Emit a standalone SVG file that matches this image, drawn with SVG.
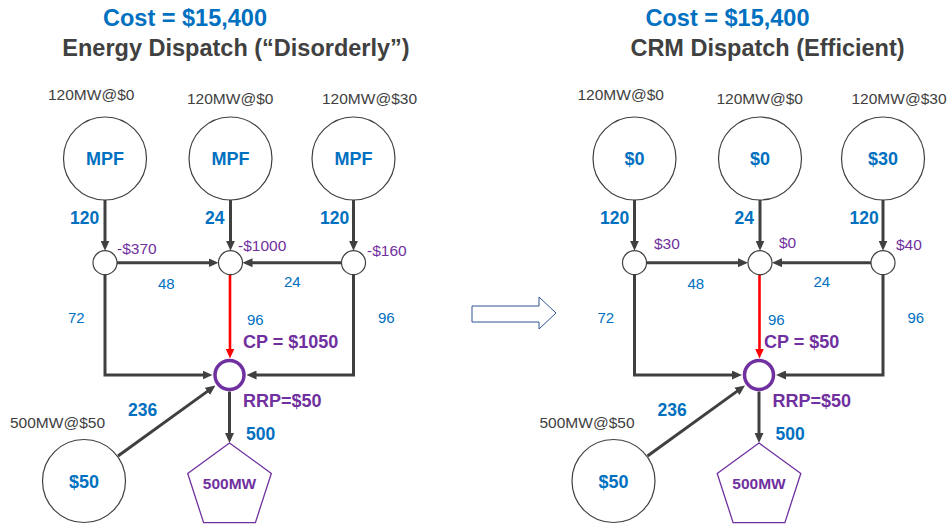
<svg xmlns="http://www.w3.org/2000/svg" width="949" height="524" viewBox="0 0 949 524">
  <style>
    text { font-family: "Liberation Sans", Arial, sans-serif; }
    .cost { font-size: 23.5px; font-weight: bold; fill: #0070C0; text-anchor: middle; }
    .title { font-size: 23.5px; font-weight: bold; fill: #404040; text-anchor: middle; }
    .cap { font-size: 15.5px; fill: #404040; }
    .gen { fill: #fff; stroke: #404040; stroke-width: 1.2; }
    .gname { font-size: 18px; font-weight: bold; fill: #0070C0; text-anchor: middle; }
    .bus { fill: #fff; stroke: #404040; stroke-width: 1.2; }
    .hub { fill: #fff; stroke: #7030A0; stroke-width: 3.5; }
    .load { fill: #fff; stroke: #7030A0; stroke-width: 1.3; }
    .lname { font-size: 15.5px; font-weight: bold; fill: #7030A0; text-anchor: middle; }
    .flowb { font-size: 17.5px; font-weight: bold; fill: #0070C0; }
    .flow { font-size: 15px; fill: #0070C0; }
    .price { font-size: 15.5px; fill: #7030A0; }
    .pb { font-size: 18px; font-weight: bold; fill: #7030A0; }
    .edge { fill: none; stroke: #404040; stroke-width: 3; marker-end: url(#ah); }
    .edge-bind { fill: none; stroke: #FF0000; stroke-width: 2.6; marker-end: url(#ahr); }
  </style>
  <defs>
    <marker id="ah" viewBox="0 0 10 9" refX="3" refY="4.5" markerWidth="10" markerHeight="9" markerUnits="userSpaceOnUse" orient="auto">
      <path d="M0,0 L10,4.5 L0,9 z" fill="#404040"/>
    </marker>
    <marker id="ahr" viewBox="0 0 10 9" refX="3" refY="4.5" markerWidth="10" markerHeight="9" markerUnits="userSpaceOnUse" orient="auto">
      <path d="M0,0 L10,4.5 L0,9 z" fill="#FF0000"/>
    </marker>
  </defs>

  <!-- ===== Left panel: energy dispatch ===== -->
  <g id="left-heading">
    <text class="cost" x="185" y="26">Cost = $15,400</text>
    <text class="title" x="236" y="56">Energy Dispatch (“Disorderly”)</text>
  </g>

  <g id="left-connectors">
    <path class="edge" d="M105,200 V243.7"/>
    <path class="edge" d="M230.5,200 V243.7"/>
    <path class="edge" d="M353.5,200 V243.7"/>
    <path class="edge" d="M117,262.7 H211.5"/>
    <path class="edge" d="M341.5,262.7 H249.5"/>
    <path class="edge-bind" d="M230,274.7 V351.5"/>
    <path class="edge" d="M105,274.7 V375 H205.5"/>
    <path class="edge" d="M353.5,274.7 V375 H253.5"/>
    <path class="edge" d="M118,456 L209.8,389.6"/>
    <path class="edge" d="M229.5,391.5 V436"/>
  </g>

  <g id="L-gen1">
    <text class="cap" x="48" y="100">120MW@$0</text>
    <circle class="gen" cx="105" cy="158.5" r="41.5"/>
    <text class="gname" x="105" y="165">MPF</text>
  </g>
  <g id="L-gen2">
    <text class="cap" x="187" y="104">120MW@$0</text>
    <circle class="gen" cx="230.5" cy="158.5" r="41.5"/>
    <text class="gname" x="230.5" y="165">MPF</text>
  </g>
  <g id="L-gen3">
    <text class="cap" x="322" y="104">120MW@$30</text>
    <circle class="gen" cx="353.5" cy="158.5" r="41.5"/>
    <text class="gname" x="353.5" y="165">MPF</text>
  </g>
  <g id="L-bus1">
    <circle class="bus" cx="105" cy="262.7" r="12"/>
    <text class="price" x="117" y="253.5">-$370</text>
  </g>
  <g id="L-bus2">
    <circle class="bus" cx="230.5" cy="262.7" r="12"/>
    <text class="price" x="238" y="251">-$1000</text>
  </g>
  <g id="L-bus3">
    <circle class="bus" cx="353.5" cy="262.7" r="12"/>
    <text class="price" x="367" y="256">-$160</text>
  </g>
  <g id="L-hub">
    <circle class="hub" cx="229.5" cy="375" r="14.5"/>
    <text class="pb" x="243" y="348">CP = $1050</text>
    <text class="pb" x="243" y="406.5">RRP=$50</text>
  </g>
  <g id="L-gen4">
    <text class="cap" x="10" y="427.5">500MW@$50</text>
    <circle class="gen" cx="84" cy="481" r="41.5"/>
    <text class="gname" x="84" y="488">$50</text>
  </g>
  <g id="L-load">
    <polygon class="load" points="229.5,443 271.3,473.4 255.4,522.6 203.6,522.6 187.7,473.4"/>
    <text class="lname" x="229.5" y="488.5">500MW</text>
  </g>
  <g id="L-flows">
    <text class="flowb" x="70" y="224">120</text>
    <text class="flowb" x="205" y="224">24</text>
    <text class="flowb" x="320" y="224">120</text>
    <text class="flow" x="158" y="289">48</text>
    <text class="flow" x="284" y="287">24</text>
    <text class="flow" x="68" y="323">72</text>
    <text class="flow" x="247" y="325">96</text>
    <text class="flow" x="378" y="323">96</text>
    <text class="flowb" x="128" y="415.5">236</text>
    <text class="flowb" x="246" y="439.5">500</text>
  </g>

  <!-- transition arrow -->
  <g id="transition">
    <polygon points="472,306 539,306 539,297 556,313 539,329 539,322 472,322" fill="#fff" stroke="#2F5597" stroke-width="1"/>
  </g>

  <!-- ===== Right panel: CRM dispatch ===== -->
  <g id="right-heading">
    <text class="cost" x="727.5" y="26">Cost = $15,400</text>
    <text class="title" x="767.5" y="56">CRM Dispatch (Efficient)</text>
  </g>

  <g id="right-connectors">
    <path class="edge" d="M634.5,200 V243.7"/>
    <path class="edge" d="M760,200 V243.7"/>
    <path class="edge" d="M883,200 V243.7"/>
    <path class="edge" d="M646.5,262.7 H741"/>
    <path class="edge" d="M871,262.7 H779"/>
    <path class="edge-bind" d="M759.5,274.7 V351.5"/>
    <path class="edge" d="M634.5,274.7 V375 H735"/>
    <path class="edge" d="M883,274.7 V375 H783"/>
    <path class="edge" d="M647.5,456 L739.3,389.6"/>
    <path class="edge" d="M759,391.5 V436"/>
  </g>

  <g id="R-gen1">
    <text class="cap" x="577.5" y="100">120MW@$0</text>
    <circle class="gen" cx="634.5" cy="158.5" r="41.5"/>
    <text class="gname" x="634.5" y="165">$0</text>
  </g>
  <g id="R-gen2">
    <text class="cap" x="716.5" y="104">120MW@$0</text>
    <circle class="gen" cx="760" cy="158.5" r="41.5"/>
    <text class="gname" x="760" y="165">$0</text>
  </g>
  <g id="R-gen3">
    <text class="cap" x="851.5" y="104">120MW@$30</text>
    <circle class="gen" cx="883" cy="158.5" r="41.5"/>
    <text class="gname" x="883" y="165">$30</text>
  </g>
  <g id="R-bus1">
    <circle class="bus" cx="634.5" cy="262.7" r="12"/>
    <text class="price" x="654" y="248.5">$30</text>
  </g>
  <g id="R-bus2">
    <circle class="bus" cx="760" cy="262.7" r="12"/>
    <text class="price" x="779" y="247.5">$0</text>
  </g>
  <g id="R-bus3">
    <circle class="bus" cx="883" cy="262.7" r="12"/>
    <text class="price" x="896" y="249.5">$40</text>
  </g>
  <g id="R-hub">
    <circle class="hub" cx="759" cy="375" r="14.5"/>
    <text class="pb" x="764" y="348">CP = $50</text>
    <text class="pb" x="772.5" y="406.5">RRP=$50</text>
  </g>
  <g id="R-gen4">
    <text class="cap" x="539.5" y="427.5">500MW@$50</text>
    <circle class="gen" cx="613.5" cy="481" r="41.5"/>
    <text class="gname" x="613.5" y="488">$50</text>
  </g>
  <g id="R-load">
    <polygon class="load" points="759,443 800.8,473.4 784.9,522.6 733.1,522.6 717.2,473.4"/>
    <text class="lname" x="759" y="488.5">500MW</text>
  </g>
  <g id="R-flows">
    <text class="flowb" x="600" y="224">120</text>
    <text class="flowb" x="734.5" y="224">24</text>
    <text class="flowb" x="849.5" y="224">120</text>
    <text class="flow" x="687.5" y="289">48</text>
    <text class="flow" x="813.5" y="287">24</text>
    <text class="flow" x="597.5" y="323">72</text>
    <text class="flow" x="768" y="325">96</text>
    <text class="flow" x="907.5" y="323">96</text>
    <text class="flowb" x="657.5" y="415.5">236</text>
    <text class="flowb" x="775.5" y="439.5">500</text>
  </g>
</svg>
